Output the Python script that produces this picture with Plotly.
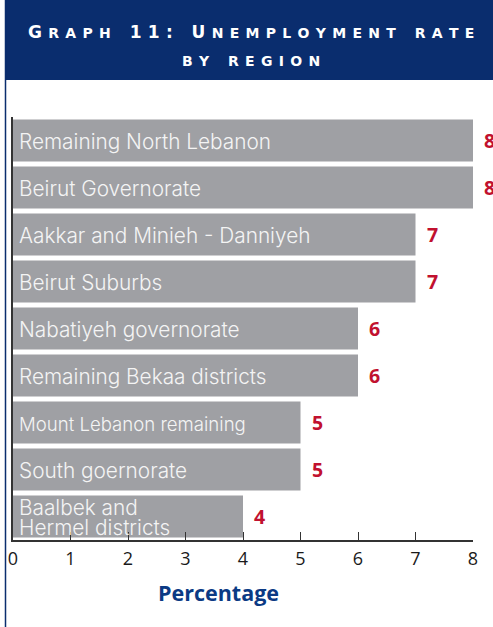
import plotly.graph_objects as go

# ---- data ----
regions = [
    "Remaining North Lebanon",
    "Beirut Governorate",
    "Aakkar and Minieh - Danniyeh",
    "Beirut Suburbs",
    "Nabatiyeh governorate",
    "Remaining Bekaa districts",
    "Mount Lebanon remaining",
    "South goernorate",
    "Baalbek and<br>Hermel districts",
]
rates = [8, 8, 7, 7, 6, 6, 5, 5, 4]
x_ticks = [0, 1, 2, 3, 4, 5, 6, 7, 8]
title_line1 = "Graph 11: Unemployment rate"
title_line2 = "by region"
x_title = "Percentage"

# ---- layout geometry ----
W, H = 493, 627
ML, MR, MT, MB = 13, 20, 117, 87
PW, PH = W - ML - MR, H - MT - MB

def px2x(px):
    return (px - ML) / PW

def py2y(py):
    return (H - MB - py) / PH

NAVY = "#0a2d6e"
BAR = "#9fa0a4"
RED = "#c1112f"

# per-label text size overrides (style only)
LABEL_SIZE = {"Mount Lebanon remaining": 18.6}

def small_caps(text, big=17, small=14, sep="\u2005\u2009", wsep=" \u2003"):
    words = []
    for w in text.split(" "):
        parts = []
        for ch in w:
            if ch.isupper() or ch.isdigit() or ch == ":":
                parts.append(f'<span style="font-size:{big}px">{ch}</span>')
            else:
                parts.append(ch.upper())
        words.append(sep.join(parts))
    return wsep.join(words)

fig = go.Figure()
fig.add_trace(go.Bar(
    x=rates, y=regions, orientation="h",
    marker=dict(color=BAR, line=dict(width=0)),
    hoverinfo="skip",
))

annotations = []
for r, v in zip(regions, rates):
    lines = r.split("<br>")
    n = len(lines)
    size = LABEL_SIZE.get(r, 20.8)
    for i, line in enumerate(lines):
        off = (n - 1) / 2 - i
        annotations.append(dict(
            x=0, y=r, xref="x", yref="y", text=line, showarrow=False,
            xanchor="left", yanchor="middle", xshift=4,
            yshift=-1 + off * 20, align="left",
            font=dict(family="Inter", size=size, color="#f4f4f4", weight=300),
        ))
    annotations.append(dict(
        x=v, y=r, xref="x", yref="y", text=str(v), showarrow=False,
        xanchor="left", yanchor="middle", xshift=9, yshift=0,
        font=dict(family="Open Sans", size=19.5, color=RED, weight="bold"),
    ))

title_font = dict(family="DejaVu Sans", size=14, color="white", weight="bold")
annotations.append(dict(
    x=px2x(251), y=py2y(32), xref="paper", yref="paper",
    text=small_caps(title_line1), showarrow=False,
    xanchor="center", yanchor="middle", font=title_font,
))
annotations.append(dict(
    x=px2x(251), y=py2y(61), xref="paper", yref="paper",
    text=small_caps(title_line2), showarrow=False,
    xanchor="center", yanchor="middle", font=title_font,
))
annotations.append(dict(
    x=px2x(218), y=py2y(592), xref="paper", yref="paper",
    text=x_title, showarrow=False, xanchor="center", yanchor="middle",
    font=dict(family="Open Sans", size=21.5, color="#0b3a84", weight="bold"),
))

shapes = [
    dict(type="rect", xref="paper", yref="paper",
         x0=px2x(5), x1=px2x(W), y0=py2y(80), y1=py2y(0),
         fillcolor=NAVY, line=dict(width=0), layer="below"),
    dict(type="line", xref="paper", yref="paper",
         x0=px2x(5.5), x1=px2x(5.5), y0=py2y(0), y1=py2y(H),
         line=dict(color=NAVY, width=1.5)),
]

fig.update_layout(
    width=W, height=H,
    margin=dict(l=ML, r=MR, t=MT, b=MB, autoexpand=False),
    paper_bgcolor="white", plot_bgcolor="white",
    showlegend=False,
    bargap=0.106,
    annotations=annotations,
    shapes=shapes,
    xaxis=dict(
        range=[0, 8], tickvals=x_ticks, ticktext=[str(t) for t in x_ticks],
        ticks="inside", ticklen=8, tickwidth=1.3, tickcolor="#333",
        showline=True, linecolor="#333", linewidth=1.5,
        showgrid=False, zeroline=False, automargin=False,
        tickfont=dict(family="Open Sans", size=18, color="#1a1a1a"),
        ticklabelstandoff=2,
        fixedrange=True,
    ),
    yaxis=dict(
        autorange="reversed", showticklabels=False, ticks="",
        showline=True, linecolor="#333", linewidth=1.5,
        layer="below traces", showgrid=False, zeroline=False,
        automargin=False, fixedrange=True,
    ),
)

fig.write_html(
    "out.html",
    config={"displayModeBar": False},
    post_script="document.body.style.margin='0';document.body.style.overflow='hidden';",
)
